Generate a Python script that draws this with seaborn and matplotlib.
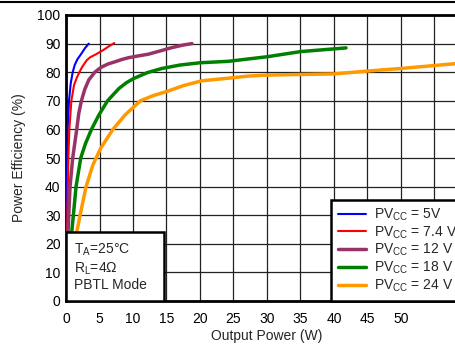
import seaborn as sns
import matplotlib.pyplot as plt
import matplotlib.lines as mlines
import matplotlib.patches as mpatches
import pandas as pd

# efficiency curves
blue_x = [0.05, 0.1, 0.2, 0.25, 0.45, 0.7, 1.0, 1.3, 1.7, 2.3, 2.8, 3.4]
blue_y = [10, 30, 50, 60, 70, 76, 80, 82.5, 84.5, 86.5, 88.3, 90]

red_x = [0.1, 0.2, 0.35, 0.5, 0.8, 1.2, 1.6, 2.0, 2.4, 3.1, 3.6, 4.5, 5.4, 6.3, 7.2]
red_y = [10, 30, 50, 60, 70, 75.5, 78, 80, 81.8, 84.2, 85.2, 86.3, 87.5, 88.9, 90.2]

purple_x = [0.15, 0.3, 0.6, 1.0, 1.6, 1.9, 2.3, 2.8, 3.4, 4.3, 5.3, 6.3, 7.4, 8.4, 9.4,
            10.8, 12.3, 14, 15.8, 17.5, 18.8]
purple_y = [10, 24, 40, 50, 60, 65.5, 70, 74, 77.3, 80, 81.8, 82.9, 83.7, 84.5, 85.1,
            85.7, 86.3, 87.4, 88.6, 89.5, 90]

green_x = [0.4, 0.85, 1.1, 1.5, 2.2, 2.9, 3.8, 4.9, 6.2, 7.9, 9.0, 10.1, 12.2, 14.3, 17, 20,
           24.2, 30, 35, 41.8]
green_y = [10, 24, 30, 40, 50, 55, 60, 65, 70, 74.3, 76.3, 77.8, 79.9, 81.3, 82.5, 83.3,
           83.8, 85.4, 87.2, 88.5]

orange_x = [1.0, 1.6, 2.1, 3.0, 4.0, 5.2, 7.0, 8.8, 11.1, 13, 15.1, 17.5, 20.3, 24.2, 27, 30,
            35, 40, 45, 50, 58.2, 60]
orange_y = [10, 24, 30, 40, 47.5, 53.5, 60, 65, 70, 71.8, 73.3, 75.3, 77, 77.9, 78.6, 79,
            79.2, 79.4, 80.4, 81.3, 83, 83.4]

labels = ['PV$_{CC}$ = 5V', 'PV$_{CC}$ = 7.4 V', 'PV$_{CC}$ = 12 V',
          'PV$_{CC}$ = 18 V', 'PV$_{CC}$ = 24 V']
colors = ['#0000FF', '#FF0000', '#993366', '#008000', '#FF9900']
widths = [1.5, 1.5, 2.5, 2.5, 2.5]

series = [(blue_x, blue_y), (red_x, red_y), (purple_x, purple_y),
          (green_x, green_y), (orange_x, orange_y)]

frames = []
for lab, (xs, ys) in zip(labels, series):
    frames.append(pd.DataFrame({'Output Power (W)': xs,
                                'Power Efficiency (%)': ys,
                                'Supply': lab}))
df = pd.concat(frames, ignore_index=True)

sns.set_style('white')
plt.rcParams['font.family'] = ['Liberation Sans', 'DejaVu Sans']
plt.rcParams['mathtext.default'] = 'regular'

fig = plt.figure(figsize=(4.56, 3.44), dpi=100)
ax = fig.add_axes([66 / 456, 43 / 344, 402 / 456, 286 / 344])

for lab, col, lw in zip(labels, colors, widths):
    sub = df[df['Supply'] == lab]
    sns.lineplot(data=sub, x='Output Power (W)', y='Power Efficiency (%)',
                 color=col, lw=lw, sort=False, estimator=None, ax=ax,
                 label=lab, zorder=3, solid_joinstyle='round')

ax.set_xlim(0, 60)
ax.set_ylim(0, 100)
ax.set_xticks(range(0, 60, 5))
ax.set_xticklabels([str(v) for v in range(0, 55, 5)] + [''])
ax.set_yticks(range(0, 101, 10))
ax.grid(True, color='#222222', lw=0.9)
ax.tick_params(axis='both', length=0, labelsize=10, colors='black')
ax.tick_params(axis='x', pad=8)
ax.tick_params(axis='y', pad=4)
for sp in ax.spines.values():
    sp.set_color('black')
    sp.set_linewidth(2)
ax.set_xlabel('Output Power (W)', fontsize=10, labelpad=2)
ax.set_ylabel('Power Efficiency (%)', fontsize=10, labelpad=8)

# conditions box in the lower-left corner
ax.add_patch(mpatches.Rectangle((0, 0), 0.244, 0.241, transform=ax.transAxes,
                                facecolor='white', edgecolor='black',
                                lw=1.8, zorder=5))
for txt, yy in zip(['T$_A$=25°C', 'R$_L$=4Ω', 'PBTL Mode'], [0.178, 0.113, 0.056]):
    ax.text(0.02, yy, txt, transform=ax.transAxes, fontsize=10,
            va='center', ha='left', zorder=6)

leg = ax.legend(loc='lower left', bbox_to_anchor=(0.659, 0.0), fontsize=10,
                frameon=True, fancybox=False, framealpha=1, edgecolor='black',
                handlelength=2.0, handletextpad=0.6, labelspacing=0.1,
                borderpad=0.5, borderaxespad=0)
leg.get_frame().set_linewidth(1.8)
leg.set_zorder(7)

# border line along the top of the image
fig.add_artist(mlines.Line2D([0, 1], [1 - 2 / 344, 1 - 2 / 344],
                             color='black', lw=1.5, transform=fig.transFigure))

fig.savefig('out.png', dpi=100)
plt.close(fig)
